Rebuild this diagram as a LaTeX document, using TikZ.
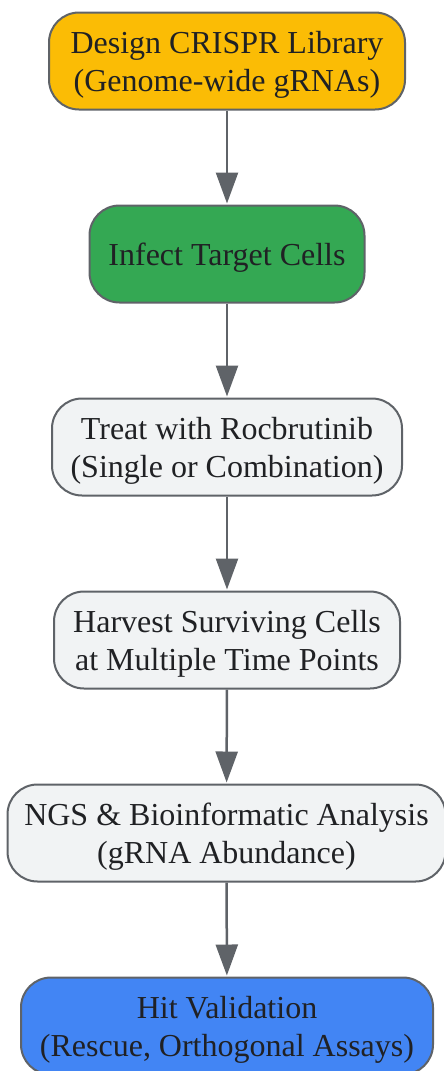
\documentclass[tikz,border=0pt]{standalone}
\usepackage{fontspec}
\setmainfont{Liberation Serif}
\usetikzlibrary{arrows.meta}
\definecolor{edge}{HTML}{5F6368}
\definecolor{txt}{HTML}{202124}
\definecolor{cyellow}{HTML}{FBBC05}
\definecolor{cgreen}{HTML}{34A853}
\definecolor{cgray}{HTML}{F1F3F4}
\definecolor{cblue}{HTML}{4285F4}
\newcommand\tstart{\rule{0pt}{30pt}}
\newcommand\tend{\rule[-7pt]{0pt}{7pt}}
\tikzset{
  box/.style={draw=edge, line width=2pt, rounded corners=30pt, align=center,
    text=txt, font=\fontsize{32}{38}\selectfont, inner sep=0pt, minimum height=97pt},
  flow/.style={draw=edge, line width=2.5pt, -{Triangle[length=31pt,width=22pt]}, shorten >=1pt}
}
\begin{document}
\begin{tikzpicture}[x=1pt,y=-1pt]
\useasboundingbox (0,0) rectangle (444,1071);
\node[box, fill=cyellow, minimum width=356pt] (n1) at (227,61) {\tstart Design CRISPR Library\\(Genome-wide gRNAs)\tend};
\node[box, fill=cgreen, minimum width=275pt] (n2) at (227,254) {\tstart Infect Target Cells\tend};
\node[box, fill=cgray, minimum width=350pt] (n3) at (227,447) {\tstart Treat with Rocbrutinib\\(Single or Combination)\tend};
\node[box, fill=cgray, minimum width=346pt] (n4) at (227,640) {\tstart Harvest Surviving Cells\\at Multiple Time Points\tend};
\node[box, fill=cgray, minimum width=438pt] (n5) at (226.5,833) {\tstart NGS \& Bioinformatic Analysis\\(gRNA Abundance)\tend};
\node[box, fill=cblue, minimum width=412pt] (n6) at (227,1026) {\tstart Hit Validation\\(Rescue, Orthogonal Assays)\tend};
\draw[flow] (n1) -- (n2);
\draw[flow] (n2) -- (n3);
\draw[flow] (n3) -- (n4);
\draw[flow] (n4) -- (n5);
\draw[flow] (n5) -- (n6);
\end{tikzpicture}
\end{document}
